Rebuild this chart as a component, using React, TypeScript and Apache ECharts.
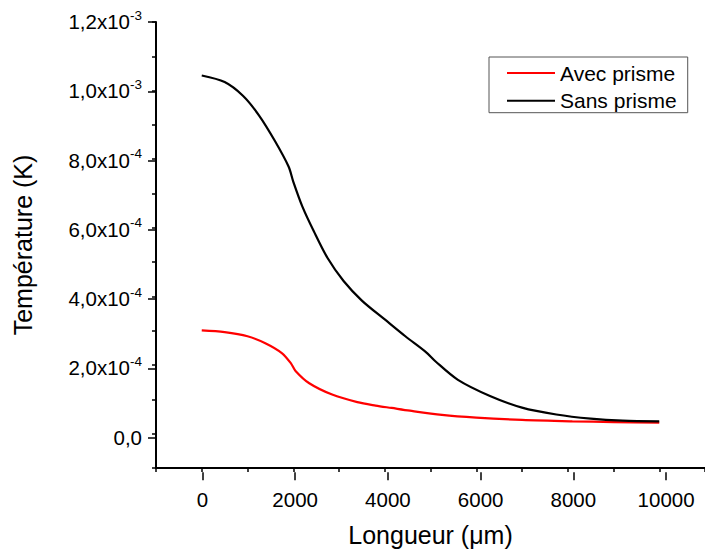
import React, { useEffect, useRef } from 'react';
import * as echarts from 'echarts';

// Data
const lengthSans = [0, 500, 900, 1250, 1600, 1900, 2000, 2200, 2450, 2750, 3100, 3500, 4000, 4450, 4900, 5100, 5600, 6300, 7000, 7750, 8500, 9200, 10000];
const tempSans = [10.44e-4, 10.25e-4, 9.85e-4, 9.28e-4, 8.53e-4, 7.78e-4, 7.35e-4, 6.62e-4, 5.9e-4, 5.12e-4, 4.45e-4, 3.88e-4, 3.33e-4, 2.84e-4, 2.38e-4, 2.12e-4, 1.57e-4, 1.1e-4, 0.76e-4, 0.56e-4, 0.44e-4, 0.38e-4, 0.36e-4];

const lengthAvec = [0, 500, 1000, 1400, 1750, 1950, 2050, 2350, 2850, 3400, 3800, 4150, 4550, 5250, 6000, 7000, 8100, 9000, 10000];
const tempAvec = [3.01e-4, 2.96e-4, 2.84e-4, 2.63e-4, 2.35e-4, 2.05e-4, 1.83e-4, 1.47e-4, 1.14e-4, 0.92e-4, 0.82e-4, 0.75e-4, 0.67e-4, 0.55e-4, 0.47e-4, 0.4e-4, 0.36e-4, 0.34e-4, 0.32e-4];

const seriesNames = ['Avec prisme', 'Sans prisme'];
const seriesColors = ['#ff0000', '#000000'];

const xTickMin = 0;
const xTickMax = 10000;
const xTickStep = 2000;
const yTickMin = 0;
const yTickMax = 1.2e-3;
const yTickStep = 2e-4;

const FONT = '"Liberation Sans", Arial, sans-serif';

function sciLabel(v: number): string {
  if (Math.abs(v) < 1e-12) return '{m|0,0}';
  const e = Math.floor(Math.log10(Math.abs(v)) + 1e-9);
  const m = v / Math.pow(10, e);
  return `{m|${m.toFixed(1).replace('.', ',')}x10}{s|${e}}`;
}

export default function App() {
  const ref = useRef<HTMLDivElement>(null);
  useEffect(() => {
    if (!ref.current) return;
    const chart = echarts.init(ref.current, undefined, { renderer: 'svg' });
    const axisLineStyle = { color: '#000', width: 2 };
    const tickStyle = { color: '#000', width: 1.5 };
    chart.setOption({
      animation: false,
      backgroundColor: '#fff',
      grid: [
        { left: 156, right: -7.8, top: 22, bottom: 79.65, containLabel: false },
        { left: 202.4, right: 38.9, top: 22, bottom: 114.3, containLabel: false },
      ],
      legend: {
        left: 489,
        top: 57,
        orient: 'vertical',
        data: seriesNames,
        icon: 'rect',
        itemWidth: 48,
        itemHeight: 2,
        itemGap: 5.7,
        padding: [5, 11, 1, 18],
        borderColor: '#555',
        borderWidth: 1,
        textStyle: { fontSize: 21, fontFamily: FONT, color: '#000', lineHeight: 22 },
      },
      xAxis: [
        {
          type: 'value',
          gridIndex: 0,
          min: -1000,
          max: 11000,
          interval: 1000,
          name: 'Longueur (\u03bcm)',
          nameLocation: 'middle',
          nameGap: 54,
          nameTextStyle: { fontSize: 25, fontFamily: FONT, color: '#000' },
          axisLine: { show: true, onZero: false, lineStyle: axisLineStyle },
          axisTick: { show: true, length: 4, lineStyle: tickStyle },
          axisLabel: { show: false },
          splitLine: { show: false },
        },
        {
          type: 'value',
          gridIndex: 1,
          min: xTickMin,
          max: xTickMax,
          interval: xTickStep,
          offset: 34.65,
          axisLine: { show: false, onZero: false },
          axisTick: { show: true, length: 8, lineStyle: tickStyle },
          axisLabel: {
            show: true,
            fontSize: 20.5,
            fontFamily: FONT,
            color: '#000',
            margin: 17,
            formatter: (v: number) => String(Math.round(v)),
          },
          splitLine: { show: false },
        },
      ],
      yAxis: [
        {
          type: 'value',
          gridIndex: 0,
          min: -1e-4,
          max: 1.2e-3,
          interval: 1e-4,
          name: 'Température (K)',
          nameLocation: 'middle',
          nameGap: 121,
          nameTextStyle: { fontSize: 25, fontFamily: FONT, color: '#000' },
          axisLine: { show: true, onZero: false, lineStyle: axisLineStyle },
          axisTick: { show: true, length: 4, lineStyle: tickStyle },
          axisLabel: { show: false },
          splitLine: { show: false },
        },
        {
          type: 'value',
          gridIndex: 1,
          min: yTickMin,
          max: yTickMax,
          interval: yTickStep,
          offset: 46.4,
          axisLine: { show: false, onZero: false },
          axisTick: { show: true, length: 8, lineStyle: tickStyle },
          axisLabel: {
            show: true,
            margin: 14,
            formatter: (v: number) => sciLabel(v),
            rich: {
              m: { fontSize: 20.5, fontFamily: FONT, color: '#000', verticalAlign: 'bottom', lineHeight: 20 },
              s: { fontSize: 13.5, fontFamily: FONT, color: '#000', verticalAlign: 'bottom', lineHeight: 13, padding: [0, 0, 10, 0] },
            },
          },
          splitLine: { show: false },
        },
      ],
      series: [
        {
          name: seriesNames[0],
          type: 'line',
          xAxisIndex: 0,
          yAxisIndex: 0,
          data: lengthAvec.map((x, i) => [x, tempAvec[i]]),
          showSymbol: false,
          smooth: 0.3,
          lineStyle: { color: seriesColors[0], width: 2.2 },
          itemStyle: { color: seriesColors[0] },
        },
        {
          name: seriesNames[1],
          type: 'line',
          xAxisIndex: 0,
          yAxisIndex: 0,
          data: lengthSans.map((x, i) => [x, tempSans[i]]),
          showSymbol: false,
          smooth: 0.3,
          lineStyle: { color: seriesColors[1], width: 2.2 },
          itemStyle: { color: seriesColors[1] },
        },
      ],
    });
    return () => chart.dispose();
  }, []);
  return (
    <div
      ref={ref}
      style={{ position: 'absolute', left: 0, top: 0, width: 705, height: 552, background: '#fff' }}
    />
  );
}
